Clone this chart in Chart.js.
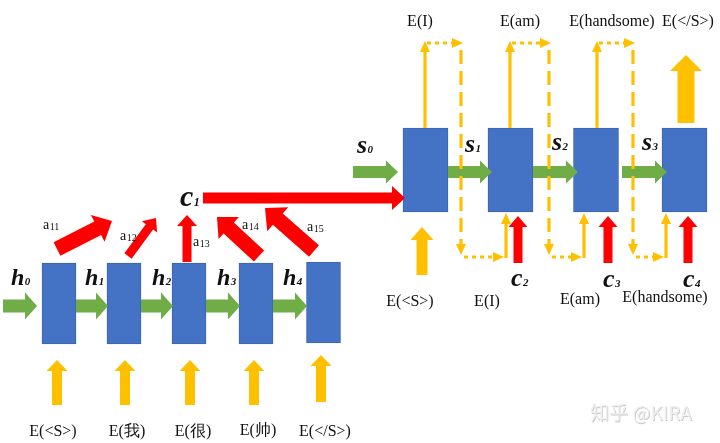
<!DOCTYPE html>
<html>
<head>
<meta charset="utf-8">
<script src="https://cdn.jsdelivr.net/npm/chart.js@4.4.1/dist/chart.umd.min.js"></script>
<style>
  html, body { margin: 0; padding: 0; background: #ffffff; }
  #wrap { width: 720px; height: 443px; position: relative; }
</style>
</head>
<body>
<div id="wrap"><canvas id="c"></canvas></div>
<script>
// ---------------- DATA (text content of the diagram) ----------------
const encoderInputs   = ['E(<S>)', 'E(我)', 'E(很)', 'E(帅)', 'E(</S>)'];
const hiddenStates    = ['h0', 'h1', 'h2', 'h3', 'h4'];
const attentionLabels = ['a11', 'a12', 'a13', 'a14', 'a15'];
const contextVectors  = ['c1', 'c2', 'c3', 'c4'];
const decoderStates   = ['s0', 's1', 's2', 's3'];
const decoderInputs   = ['E(<S>)', 'E(I)', 'E(am)', 'E(handsome)'];
const decoderOutputs  = ['E(I)', 'E(am)', 'E(handsome)', 'E(</S>)'];
const watermarkText   = '知乎 @KIRA';

// ---------------- LAYOUT (diagram geometry, in scale units) ----------------
const layout = {
  encBoxX: [59, 124, 189, 256, 323.5],
  encBoxY: [[263, 344], [263, 344], [263, 344], [263, 344], [262, 343]],
  encBoxW: 34,
  decBoxX: [425.5, 510.5, 596, 684.5],
  decBoxY: [128, 212],
  decBoxW: 45,
  hArrows: [[3, 37], [76, 108], [141, 173], [206, 240], [273, 307]],
  hArrowY: 306,
  hLabel: [[11, 285], [85, 285], [152, 285], [217, 285], [283, 285]],
  encInArrowX: [57, 125, 190, 254, 321],
  encInArrowY: [[405, 360], [405, 360], [405, 360], [405, 360], [402, 355]],
  encInLabel: [[53, 432], [127, 432], [193, 432], [258, 431], [325, 432]],
  attArrows: [
    [[57, 249], [112, 221], 15, 30, 16],
    [[128, 256], [156, 218], 9, 19, 11],
    [[187, 262], [187, 215], 9, 20, 11],
    [[259, 256], [217, 217], 15, 30, 16],
    [[314, 251], [265, 208], 15, 32, 17]
  ],
  attLabel: [[43, 229], [120, 240], [193, 246], [242, 229], [307, 231]],
  c1Arrow: [[203, 198], [405, 198]],
  c1Label: [180, 206],
  sArrows: [[353, 398], [448, 492], [533, 578], [622, 667]],
  sArrowY: 172,
  sLabel: [[357, 153], [465, 152], [552, 150], [642, 150]],
  d1InArrow: [422, 275, 227],
  outUpX: [425, 510, 597],
  dashX: [461, 549, 633],
  feedUpX: [506, 584, 666],
  redUpX: [518, 608, 688],
  bigOut: [686, 123, 55],
  cLabel: [[511, 286], [603, 287], [683, 287]],
  decInLabel: [[410, 302], [487, 302], [580, 300], [665, 298]],
  decOutLabel: [[420, 22], [520, 22], [612, 22], [688, 22]],
  watermark: [641, 413]
};

const COLORS = {
  blue: '#4472C4', blueEdge: '#3B64AE',
  green: '#70AD47', red: '#FF0000',
  yellow: '#FFC000', text: '#111111'
};
const SERIF = '"Liberation Serif", "Times New Roman", serif';

// ---------------- drawing helpers ----------------
function blockArrow(ctx, x1, y1, x2, y2, sw, hw, hl, color) {
  const dx = x2 - x1, dy = y2 - y1, L = Math.hypot(dx, dy);
  const ux = dx / L, uy = dy / L, nx = -uy, ny = ux;
  const bx = x2 - ux * hl, by = y2 - uy * hl;
  ctx.beginPath();
  ctx.moveTo(x1 + nx * sw / 2, y1 + ny * sw / 2);
  ctx.lineTo(bx + nx * sw / 2, by + ny * sw / 2);
  ctx.lineTo(bx + nx * hw / 2, by + ny * hw / 2);
  ctx.lineTo(x2, y2);
  ctx.lineTo(bx - nx * hw / 2, by - ny * hw / 2);
  ctx.lineTo(bx - nx * sw / 2, by - ny * sw / 2);
  ctx.lineTo(x1 - nx * sw / 2, y1 - ny * sw / 2);
  ctx.closePath();
  ctx.fillStyle = color;
  ctx.fill();
}
function lineArrow(ctx, x1, y1, x2, y2, dash, head, color) {
  const dx = x2 - x1, dy = y2 - y1, L = Math.hypot(dx, dy);
  const ux = dx / L, uy = dy / L, nx = -uy, ny = ux;
  const hl = head ? 11 : 0, hw = 10;
  const ex = x2 - ux * hl, ey = y2 - uy * hl;
  ctx.save();
  ctx.strokeStyle = color;
  ctx.lineWidth = 3.2;
  ctx.lineCap = 'butt';
  ctx.setLineDash(dash || []);
  ctx.beginPath();
  ctx.moveTo(x1, y1);
  ctx.lineTo(ex + ux * 1, ey + uy * 1);
  ctx.stroke();
  ctx.setLineDash([]);
  if (head) {
    ctx.beginPath();
    ctx.moveTo(x2, y2);
    ctx.lineTo(ex + nx * hw / 2, ey + ny * hw / 2);
    ctx.lineTo(ex - nx * hw / 2, ey - ny * hw / 2);
    ctx.closePath();
    ctx.fillStyle = color;
    ctx.fill();
  }
  ctx.restore();
}
function subLabel(ctx, text, x, y, mainFont, subFont, subDy) {
  const main = text.charAt(0), sub = text.slice(1);
  ctx.textAlign = 'left';
  ctx.textBaseline = 'alphabetic';
  ctx.fillStyle = COLORS.text;
  ctx.font = mainFont;
  ctx.fillText(main, x, y);
  const w = ctx.measureText(main).width;
  ctx.font = subFont;
  ctx.fillText(sub, x + w + 0.5, y + subDy);
}
function centerText(ctx, text, x, y, font) {
  ctx.font = font;
  ctx.textAlign = 'center';
  ctx.textBaseline = 'middle';
  ctx.fillStyle = COLORS.text;
  ctx.fillText(text, x, y);
}

const diagramPlugin = {
  id: 'seq2seqDiagram',
  afterDatasetsDraw(chart) {
    const ctx = chart.ctx;
    const sx = chart.scales.x, sy = chart.scales.y;
    const X = v => sx.getPixelForValue(v);
    const Y = v => sy.getPixelForValue(v);
    ctx.save();

    // Encoder: hidden-state arrows (green)
    layout.hArrows.forEach(a => blockArrow(ctx, X(a[0]), Y(layout.hArrowY), X(a[1]), Y(layout.hArrowY), 13, 27, 12, COLORS.green));
    // Encoder inputs (yellow)
    layout.encInArrowX.forEach((x, i) => {
      const yy = layout.encInArrowY[i];
      blockArrow(ctx, X(x), Y(yy[0]), X(x), Y(yy[1]), 10, 21, 11, COLORS.yellow);
    });
    // Attention arrows (red)
    layout.attArrows.forEach(a => blockArrow(ctx, X(a[0][0]), Y(a[0][1]), X(a[1][0]), Y(a[1][1]), a[2], a[3], a[4], COLORS.red));
    // Context c1 -> decoder
    blockArrow(ctx, X(layout.c1Arrow[0][0]), Y(layout.c1Arrow[0][1]), X(layout.c1Arrow[1][0]), Y(layout.c1Arrow[1][1]), 11, 24, 13, COLORS.red);

    // Decoder state arrows (green)
    layout.sArrows.forEach(a => blockArrow(ctx, X(a[0]), Y(layout.sArrowY), X(a[1]), Y(layout.sArrowY), 12, 23, 12, COLORS.green));
    // Decoder first input
    const d1 = layout.d1InArrow;
    blockArrow(ctx, X(d1[0]), Y(d1[1]), X(d1[0]), Y(d1[2]), 11, 23, 13, COLORS.yellow);
    // Output / feed-back paths
    for (let i = 0; i < 3; i++) {
      const ox = layout.outUpX[i], dx = layout.dashX[i], fx = layout.feedUpX[i];
      lineArrow(ctx, X(ox), Y(128), X(ox), Y(41), null, true, COLORS.yellow);
      lineArrow(ctx, X(ox + 2), Y(43), X(dx + 2), Y(43), [4, 4], true, COLORS.yellow);
      lineArrow(ctx, X(dx), Y(50), X(dx), Y(255), [14, 7], true, COLORS.yellow);
      lineArrow(ctx, X(dx + 3), Y(257), X(fx - 2), Y(257), [4, 4], true, COLORS.yellow);
      lineArrow(ctx, X(fx), Y(258), X(fx), Y(213), null, true, COLORS.yellow);
      const rx = layout.redUpX[i];
      blockArrow(ctx, X(rx), Y(263), X(rx), Y(216), 9, 19, 11, COLORS.red);
    }
    // Last output (big yellow)
    const bo = layout.bigOut;
    blockArrow(ctx, X(bo[0]), Y(bo[1]), X(bo[0]), Y(bo[2]), 17, 32, 16, COLORS.yellow);

    // ---- Text ----
    const bi = (s) => 'bold italic ' + s + 'px ' + SERIF;
    const rg = (s) => s + 'px ' + SERIF;
    hiddenStates.forEach((t, i) => subLabel(ctx, t, X(layout.hLabel[i][0]), Y(layout.hLabel[i][1]), bi(24), bi(11), 0));
    attentionLabels.forEach((t, i) => subLabel(ctx, t, X(layout.attLabel[i][0]), Y(layout.attLabel[i][1]), rg(14), rg(10), 1));
    subLabel(ctx, contextVectors[0], X(layout.c1Label[0]), Y(layout.c1Label[1]), bi(30), bi(12), 0);
    contextVectors.slice(1).forEach((t, i) => subLabel(ctx, t, X(layout.cLabel[i][0]), Y(layout.cLabel[i][1]), bi(26), bi(11), 0));
    decoderStates.forEach((t, i) => subLabel(ctx, t, X(layout.sLabel[i][0]), Y(layout.sLabel[i][1]), bi(26), bi(11), 0));
    encoderInputs.forEach((t, i) => centerText(ctx, t, X(layout.encInLabel[i][0]), Y(layout.encInLabel[i][1]), rg(16)));
    decoderInputs.forEach((t, i) => centerText(ctx, t, X(layout.decInLabel[i][0]), Y(layout.decInLabel[i][1]), rg(16)));
    decoderOutputs.forEach((t, i) => centerText(ctx, t, X(layout.decOutLabel[i][0]), Y(layout.decOutLabel[i][1]), rg(16)));

    // Watermark (light embossed text)
    ctx.font = '19px "Noto Sans CJK SC", "Noto Sans", sans-serif';
    ctx.textAlign = 'center';
    ctx.textBaseline = 'middle';
    ctx.fillStyle = '#c9c9c9';
    ctx.fillText(watermarkText, X(layout.watermark[0]) + 0.8, Y(layout.watermark[1]) + 0.8);
    ctx.fillStyle = '#efefef';
    ctx.fillText(watermarkText, X(layout.watermark[0]), Y(layout.watermark[1]));

    ctx.restore();
  }
};

// ---------------- Chart ----------------
const encoderBoxes = layout.encBoxX.map((x, i) => ({ x: x, y: layout.encBoxY[i] }));
const decoderBoxes = layout.decBoxX.map(x => ({ x: x, y: layout.decBoxY }));

new Chart(document.getElementById('c'), {
  type: 'bar',
  data: {
    datasets: [
      {
        label: 'encoder', data: encoderBoxes, grouped: false,
        barThickness: layout.encBoxW, backgroundColor: COLORS.blue,
        borderColor: COLORS.blueEdge, borderWidth: 1, borderSkipped: false
      },
      {
        label: 'decoder', data: decoderBoxes, grouped: false,
        barThickness: layout.decBoxW, backgroundColor: COLORS.blue,
        borderColor: COLORS.blueEdge, borderWidth: 1, borderSkipped: false
      }
    ]
  },
  options: {
    responsive: true,
    maintainAspectRatio: false,
    animation: false,
    events: [],
    layout: { padding: 0 },
    plugins: { legend: { display: false }, tooltip: { enabled: false } },
    scales: {
      x: { type: 'linear', min: 0, max: 720, display: false, offset: false },
      y: { type: 'linear', min: 0, max: 443, reverse: true, display: false }
    }
  },
  plugins: [diagramPlugin]
});
</script>
</body>
</html>
